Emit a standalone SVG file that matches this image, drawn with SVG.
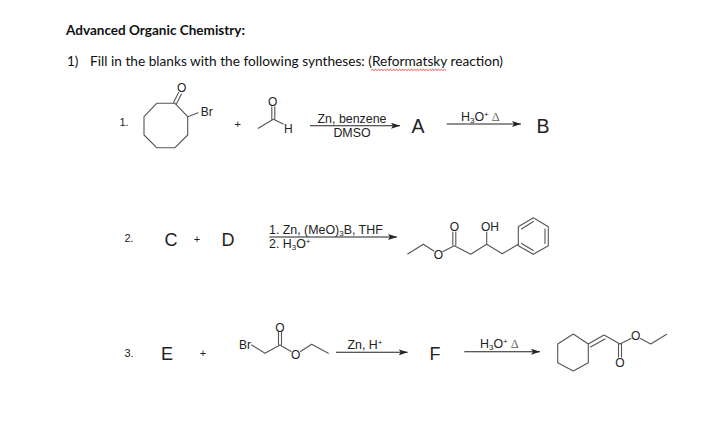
<svg xmlns="http://www.w3.org/2000/svg" width="720" height="434" viewBox="0 0 720 434">
<style>
.b{fill:none;stroke:#555;stroke-width:1.1;stroke-linejoin:round;stroke-linecap:round}
.a{fill:none;stroke:#222;stroke-width:1.1}
text{font-family:"Liberation Sans",Arial,sans-serif;fill:#222}
.h{font-family:Lato,"Open Sans",sans-serif;font-size:13.5px;fill:#111}
.s{font-size:12.4px;text-anchor:middle}
.st{font-size:12.4px;text-anchor:start}
.n{font-size:11px;text-anchor:middle}
.L{font-size:19.5px;text-anchor:middle}
.M{font-size:18px;text-anchor:middle}
.at{font-size:12px;text-anchor:middle}
.d{font-family:"Liberation Serif",serif;fill:#666}
</style>
<defs><marker id="ah" markerUnits="userSpaceOnUse" markerWidth="9" markerHeight="6" refX="9" refY="3" orient="auto"><path d="M0 0L9 3L0 6L2 3Z" fill="#222"/></marker></defs>
<rect width="720" height="434" fill="#fff"/>
<g id="heading">
<text class="h" x="66" y="35" font-weight="700" textLength="179" lengthAdjust="spacingAndGlyphs">Advanced Organic Chemistry:</text>
<text class="h" x="67" y="66">1)</text>
<text class="h" x="90" y="66" textLength="413" lengthAdjust="spacingAndGlyphs">Fill in the blanks with the following syntheses: (Reformatsky reaction)</text>
<path d="M371 70.5l1.5-1.2 1.500 1.200 1.500-1.200 1.500 1.200 1.500-1.200 1.500 1.200 1.500-1.200 1.500 1.200 1.500-1.200 1.500 1.200 1.500-1.200 1.500 1.200 1.500-1.200 1.500 1.200 1.500-1.200 1.500 1.200 1.500-1.200 1.500 1.200 1.500-1.200 1.500 1.200 1.500-1.200 1.500 1.200 1.500-1.200 1.500 1.200 1.500-1.200 1.500 1.200 1.500-1.200 1.500 1.200 1.500-1.200 1.500 1.200 1.500-1.200 1.500 1.200 1.500-1.200 1.500 1.200 1.500-1.200 1.500 1.200 1.500-1.200 1.500 1.200 1.500-1.200 1.500 1.200 1.500-1.200 1.500 1.200 1.500-1.200 1.500 1.200 1.500-1.200 1.500 1.200 1.500-1.200 1.500 1.200 1.500-1.200 1.500 1.200" fill="none" stroke="#d22" stroke-width=".8"/>
</g>
<g id="connectors">
<path class="a" marker-end="url(#ah)" d="M310 125.700H400"/>
<path class="a" marker-end="url(#ah)" d="M446.700 124H521"/>
<path class="a" marker-end="url(#ah)" d="M269.300 237H397"/>
<path class="a" marker-end="url(#ah)" d="M336 352.300H407.700"/>
<path class="a" marker-end="url(#ah)" d="M464.300 351.700H540"/>
</g>
<g id="row1">
<text class="n" x="124" y="126">1.</text>
<g id="bromoketone">
<path class="b" d="M175 103.300H156.700L144 116.700V135L156.700 147.700H175L187.700 135V116.700Z"/>
<path class="b" d="M173.600 102.600L178.600 92.600M176.400 104L181.400 94M187.700 116.700L198 112.700"/>
<text class="at" x="181.700" y="92">O</text>
<text class="at" x="206.700" y="115.500">Br</text>
</g>
<text class="n" x="237.700" y="128">+</text>
<g id="aldehyde">
<path class="b" d="M258.300 128.300L273.300 119.300L283.300 124M271.800 119V106.700M274.800 119V106.700"/>
<text class="at" x="272.700" y="105.500">O</text>
<text class="at" x="288.300" y="133">H</text>
</g>
<text class="s" x="352" y="123">Zn, benzene</text>
<text class="s" x="352" y="137">DMSO</text>
<text class="L" x="418" y="132.700">A</text>
<text class="st" x="461" y="120.700">H<tspan font-size="8" dy="2">3</tspan><tspan dy="-2">O</tspan><tspan font-size="8" dy="-4">+</tspan><tspan class="d" dy="4" dx="3">Δ</tspan></text>
<text class="L" x="543" y="132.700">B</text>
</g>
<g id="row2">
<text class="n" x="129" y="242">2.</text>
<text class="M" x="171" y="245.500">C</text>
<text class="n" x="197" y="243">+</text>
<text class="M" x="228" y="245.500">D</text>
<text class="st" x="269" y="234">1. Zn, (MeO)<tspan font-size="8" dy="2">3</tspan><tspan dy="-2">B, THF</tspan></text>
<text class="st" x="269" y="248">2. H<tspan font-size="8" dy="2">3</tspan><tspan dy="-2">O</tspan><tspan font-size="8" dy="-4">+</tspan></text>
<g id="hydroxyester">
<path class="b" d="M407.700 254L423.300 244.300L433.800 251M443 251.500L454.300 245.700L470.700 254.300L486.700 244.300L502.300 253.700L518.300 244.300M452.800 245V232M455.800 245V232M486.700 244.300V232"/>
<path class="b" d="M518.300 226.700L533.300 217.700L548.300 226.700V245.700L533.300 254.300L518.300 245.700ZM521.500 229L533.300 221.500M545 229V243.500M521.500 243.500L533.300 250.500"/>
<text class="at" x="438.300" y="258.500">O</text>
<text class="at" x="454.300" y="231">O</text>
<text class="at" x="490" y="231">OH</text>
</g>
</g>
<g id="row3">
<text class="n" x="129" y="357">3.</text>
<text class="M" x="167" y="359.500">E</text>
<text class="n" x="203" y="357">+</text>
<g id="bromoester">
<path class="b" d="M251.700 345L265 353.300L280 345L291 351.500M300.500 351.500L311.700 344.300L328.300 353.300M278.500 344.500V332M281.500 344.500V332"/>
<text class="at" x="245" y="349">Br</text>
<text class="at" x="280" y="331.500">O</text>
<text class="at" x="295.700" y="358.500">O</text>
</g>
<text class="s" x="365" y="349">Zn, H<tspan font-size="8" dy="-4">+</tspan></text>
<text class="M" x="435" y="359.500">F</text>
<text class="st" x="480" y="348">H<tspan font-size="8" dy="2">3</tspan><tspan dy="-2">O</tspan><tspan font-size="8" dy="-4">+</tspan><tspan class="d" dy="4" dx="3">Δ</tspan></text>
<g id="unsaturated-ester">
<path class="b" d="M573.300 334L588.300 344V362.700L573.300 371L557.700 362.700V344ZM588.300 344L604 335L620 344L631 338.500M640.500 338.500L650.700 344L666.700 334.300M590.500 347L605 339M618.500 344V357M621.500 344V357"/>
<text class="at" x="620" y="367">O</text>
<text class="at" x="635.700" y="339.500">O</text>
</g>
</g>
</svg>
